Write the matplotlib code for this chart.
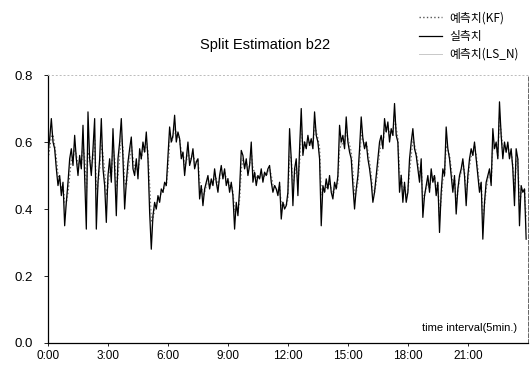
import numpy as np
import matplotlib
matplotlib.use('Agg')
import matplotlib.pyplot as plt

# 5-minute samples over one day (12 per hour)
measured = [
    0.57, 0.61, 0.67, 0.60, 0.58, 0.52, 0.47, 0.50, 0.44, 0.48, 0.35, 0.42,
    0.48, 0.55, 0.58, 0.53, 0.62, 0.55, 0.50, 0.56, 0.52, 0.65, 0.50, 0.34,
    0.69, 0.55, 0.50, 0.58, 0.67, 0.34, 0.48, 0.55, 0.67, 0.52, 0.47, 0.36,
    0.50, 0.55, 0.48, 0.64, 0.52, 0.38, 0.55, 0.60, 0.67, 0.55, 0.40, 0.48,
    0.54, 0.58, 0.615, 0.52, 0.50, 0.55, 0.49, 0.58, 0.55, 0.60, 0.57, 0.63,
    0.55, 0.39, 0.28, 0.38, 0.42, 0.40, 0.44, 0.42, 0.46, 0.45, 0.48, 0.47,
    0.56, 0.645, 0.60, 0.62, 0.68, 0.60, 0.63, 0.61, 0.55, 0.57, 0.50, 0.55,
    0.60, 0.53, 0.55, 0.58, 0.52, 0.54, 0.55, 0.43, 0.47, 0.41, 0.46, 0.48,
    0.50, 0.46, 0.49, 0.47, 0.52, 0.48, 0.45, 0.50, 0.53, 0.49, 0.52, 0.47,
    0.49, 0.45, 0.48, 0.44, 0.34, 0.42, 0.38, 0.46, 0.575, 0.56, 0.52, 0.55,
    0.50, 0.53, 0.60, 0.48, 0.51, 0.47, 0.50, 0.49, 0.52, 0.48, 0.51, 0.50,
    0.52, 0.53, 0.48, 0.45, 0.47, 0.46, 0.44, 0.48, 0.37, 0.42, 0.40, 0.41,
    0.45, 0.64, 0.55, 0.41, 0.52, 0.55, 0.44, 0.58, 0.70, 0.56, 0.60, 0.58,
    0.62, 0.59, 0.61, 0.58, 0.69, 0.62, 0.60, 0.55, 0.35, 0.47, 0.45, 0.49,
    0.46, 0.50, 0.45, 0.43, 0.48, 0.46, 0.50, 0.65, 0.60, 0.62, 0.58, 0.675,
    0.60, 0.57, 0.55, 0.47, 0.40, 0.46, 0.50, 0.58, 0.675, 0.61, 0.58, 0.60,
    0.55, 0.52, 0.48, 0.42, 0.45, 0.50, 0.55, 0.60, 0.62, 0.58, 0.67, 0.63,
    0.66, 0.60, 0.64, 0.62, 0.715, 0.62, 0.60, 0.45, 0.50, 0.42, 0.48, 0.42,
    0.45, 0.55, 0.60, 0.64, 0.58, 0.56, 0.52, 0.48, 0.55, 0.375, 0.44, 0.47,
    0.50, 0.45, 0.52, 0.48, 0.50, 0.44, 0.48, 0.33, 0.45, 0.52, 0.50, 0.645,
    0.58, 0.55, 0.50, 0.45, 0.50, 0.385, 0.46, 0.50, 0.52, 0.55, 0.50, 0.41,
    0.50, 0.55, 0.58, 0.56, 0.60, 0.55, 0.50, 0.45, 0.48, 0.31, 0.42, 0.48,
    0.50, 0.52, 0.47, 0.64, 0.58, 0.60, 0.55, 0.72, 0.62, 0.55, 0.60, 0.57,
    0.60, 0.55, 0.58, 0.52, 0.41, 0.58, 0.55, 0.35, 0.47, 0.45, 0.46, 0.31,
]

pred_kf = [
    0.55, 0.58, 0.62, 0.62, 0.59, 0.55, 0.50, 0.49, 0.46, 0.47, 0.42, 0.42,
    0.45, 0.50, 0.55, 0.55, 0.58, 0.56, 0.53, 0.54, 0.53, 0.59, 0.55, 0.45,
    0.57, 0.56, 0.52, 0.55, 0.61, 0.46, 0.47, 0.52, 0.60, 0.56, 0.51, 0.44,
    0.47, 0.52, 0.50, 0.58, 0.55, 0.46, 0.50, 0.56, 0.62, 0.58, 0.48, 0.47,
    0.51, 0.55, 0.59, 0.55, 0.52, 0.53, 0.51, 0.55, 0.55, 0.58, 0.57, 0.60,
    0.57, 0.47, 0.36, 0.37, 0.40, 0.41, 0.43, 0.43, 0.45, 0.45, 0.47, 0.47,
    0.52, 0.60, 0.60, 0.61, 0.65, 0.62, 0.62, 0.61, 0.57, 0.57, 0.53, 0.54,
    0.57, 0.55, 0.55, 0.57, 0.54, 0.54, 0.55, 0.48, 0.47, 0.44, 0.45, 0.47,
    0.49, 0.47, 0.48, 0.47, 0.50, 0.49, 0.47, 0.49, 0.51, 0.50, 0.51, 0.49,
    0.49, 0.47, 0.47, 0.45, 0.39, 0.40, 0.39, 0.43, 0.52, 0.55, 0.53, 0.54,
    0.52, 0.53, 0.57, 0.52, 0.51, 0.49, 0.50, 0.49, 0.51, 0.49, 0.50, 0.50,
    0.51, 0.52, 0.50, 0.47, 0.47, 0.46, 0.45, 0.47, 0.41, 0.42, 0.41, 0.41,
    0.43, 0.56, 0.55, 0.47, 0.50, 0.53, 0.48, 0.54, 0.64, 0.59, 0.60, 0.59,
    0.60, 0.59, 0.60, 0.59, 0.65, 0.63, 0.61, 0.58, 0.44, 0.46, 0.45, 0.47,
    0.46, 0.48, 0.46, 0.44, 0.46, 0.46, 0.48, 0.58, 0.59, 0.60, 0.59, 0.64,
    0.61, 0.59, 0.57, 0.51, 0.44, 0.45, 0.48, 0.54, 0.63, 0.61, 0.59, 0.60,
    0.57, 0.54, 0.50, 0.45, 0.45, 0.48, 0.52, 0.57, 0.60, 0.59, 0.64, 0.63,
    0.65, 0.62, 0.63, 0.62, 0.68, 0.64, 0.61, 0.51, 0.50, 0.45, 0.47, 0.44,
    0.45, 0.51, 0.56, 0.61, 0.59, 0.57, 0.54, 0.50, 0.53, 0.43, 0.44, 0.46,
    0.48, 0.46, 0.50, 0.49, 0.50, 0.46, 0.47, 0.38, 0.43, 0.49, 0.50, 0.59,
    0.58, 0.56, 0.52, 0.47, 0.49, 0.42, 0.45, 0.49, 0.51, 0.54, 0.51, 0.45,
    0.48, 0.53, 0.56, 0.56, 0.59, 0.56, 0.52, 0.47, 0.48, 0.37, 0.41, 0.46,
    0.49, 0.51, 0.48, 0.59, 0.58, 0.59, 0.56, 0.67, 0.63, 0.57, 0.59, 0.57,
    0.59, 0.56, 0.57, 0.53, 0.45, 0.54, 0.55, 0.41, 0.45, 0.45, 0.46, 0.37,
]

pred_lsn = [
    0.56, 0.60, 0.64, 0.61, 0.58, 0.53, 0.48, 0.49, 0.45, 0.47, 0.39, 0.42,
    0.47, 0.53, 0.57, 0.54, 0.60, 0.55, 0.51, 0.55, 0.52, 0.62, 0.52, 0.40,
    0.63, 0.55, 0.51, 0.56, 0.64, 0.40, 0.47, 0.53, 0.63, 0.54, 0.49, 0.40,
    0.48, 0.53, 0.49, 0.61, 0.53, 0.42, 0.52, 0.58, 0.64, 0.56, 0.44, 0.47,
    0.52, 0.56, 0.60, 0.53, 0.51, 0.54, 0.50, 0.56, 0.55, 0.59, 0.57, 0.61,
    0.56, 0.43, 0.32, 0.38, 0.41, 0.40, 0.43, 0.42, 0.45, 0.45, 0.47, 0.47,
    0.54, 0.62, 0.60, 0.61, 0.66, 0.61, 0.62, 0.61, 0.56, 0.57, 0.51, 0.54,
    0.58, 0.54, 0.55, 0.57, 0.53, 0.54, 0.55, 0.45, 0.47, 0.43, 0.45, 0.47,
    0.49, 0.46, 0.48, 0.47, 0.51, 0.48, 0.46, 0.49, 0.52, 0.49, 0.51, 0.48,
    0.49, 0.46, 0.47, 0.44, 0.37, 0.41, 0.39, 0.45, 0.55, 0.55, 0.52, 0.54,
    0.51, 0.53, 0.58, 0.50, 0.51, 0.48, 0.50, 0.49, 0.51, 0.49, 0.51, 0.50,
    0.51, 0.52, 0.49, 0.46, 0.47, 0.46, 0.45, 0.47, 0.39, 0.42, 0.41, 0.41,
    0.44, 0.60, 0.55, 0.44, 0.51, 0.54, 0.46, 0.56, 0.67, 0.57, 0.60, 0.58,
    0.61, 0.59, 0.60, 0.58, 0.67, 0.62, 0.60, 0.56, 0.40, 0.46, 0.45, 0.48,
    0.46, 0.49, 0.46, 0.44, 0.47, 0.46, 0.49, 0.61, 0.59, 0.61, 0.58, 0.65,
    0.61, 0.58, 0.56, 0.49, 0.42, 0.45, 0.49, 0.56, 0.65, 0.61, 0.58, 0.60,
    0.56, 0.53, 0.49, 0.44, 0.45, 0.49, 0.53, 0.58, 0.61, 0.58, 0.65, 0.63,
    0.65, 0.61, 0.63, 0.62, 0.69, 0.63, 0.60, 0.48, 0.50, 0.44, 0.47, 0.43,
    0.45, 0.53, 0.58, 0.62, 0.59, 0.56, 0.53, 0.49, 0.54, 0.41, 0.44, 0.46,
    0.49, 0.46, 0.51, 0.48, 0.50, 0.45, 0.47, 0.36, 0.44, 0.50, 0.50, 0.61,
    0.58, 0.55, 0.51, 0.46, 0.49, 0.40, 0.45, 0.49, 0.51, 0.54, 0.50, 0.43,
    0.49, 0.54, 0.57, 0.56, 0.59, 0.55, 0.51, 0.46, 0.48, 0.34, 0.41, 0.47,
    0.49, 0.51, 0.48, 0.61, 0.58, 0.59, 0.55, 0.69, 0.62, 0.56, 0.59, 0.57,
    0.59, 0.55, 0.57, 0.52, 0.43, 0.55, 0.55, 0.38, 0.46, 0.45, 0.46, 0.34,
]

tick_hours = [0, 3, 6, 9, 12, 15, 18, 21]
tick_labels = ['0:00', '3:00', '6:00', '9:00', '12:00', '15:00', '18:00', '21:00']
y_ticks = [0.0, 0.2, 0.4, 0.6, 0.8]

font = ['Liberation Sans', 'DejaVu Sans']
kor = ['Noto Sans CJK KR', 'DejaVu Sans']

# time axis in hours, one sample per 5 minutes
t = np.arange(len(measured)) / 12.0

fig = plt.figure(figsize=(5.31, 3.79), dpi=100)
ax = fig.add_axes([0.0904, 0.095, 0.9036, 0.707])

l_kf, = ax.plot(t, pred_kf, linestyle=':', color='#555555', linewidth=1.0, label='예측치(KF)')
l_me, = ax.plot(t, measured, linestyle='-', color='black', linewidth=0.9, label='실측치')
l_ls, = ax.plot(t, pred_lsn, linestyle='-', color='#c8c8c8', linewidth=0.7, label='예측치(LS_N)')
# keep the measured series on top
l_me.set_zorder(3)

ax.set_xlim(0, 24)
ax.set_ylim(0, 0.8)
ax.set_xticks(tick_hours)
ax.set_xticklabels(tick_labels, family=font, fontsize=8.5)
ax.set_yticks(y_ticks)
ax.set_yticklabels(['%.1f' % v for v in y_ticks], family=font, fontsize=9.5)
ax.tick_params(axis='x', length=2, width=0.6, direction='out', pad=3)
ax.tick_params(axis='y', length=3, width=0.6, direction='out', pad=8)

# scanned-look frame
ax.spines['left'].set_linewidth(0.9)
ax.spines['bottom'].set_linewidth(0.9)
ax.spines['top'].set_linestyle((0, (1, 3)))
ax.spines['top'].set_color('#bbbbbb')
ax.spines['top'].set_linewidth(0.7)
ax.spines['right'].set_linestyle((0, (4, 2)))
ax.spines['right'].set_color('#666666')
ax.spines['right'].set_linewidth(0.7)

fig.text(0.5, 0.88, 'Split Estimation b22', ha='center', va='center',
         family=font, fontsize=10.5)
ax.text(0.977, 0.056, 'time interval(5min.)', transform=ax.transAxes,
        ha='right', va='center', family=font, fontsize=8)

fig.legend(handles=[l_kf, l_me, l_ls], loc='upper right',
           bbox_to_anchor=(0.995, 0.995), frameon=False,
           prop={'family': kor, 'size': 8.5}, handlelength=2.0,
           handletextpad=0.6, labelspacing=0.45, borderpad=0.3)

plt.savefig('out.png', dpi=100)
